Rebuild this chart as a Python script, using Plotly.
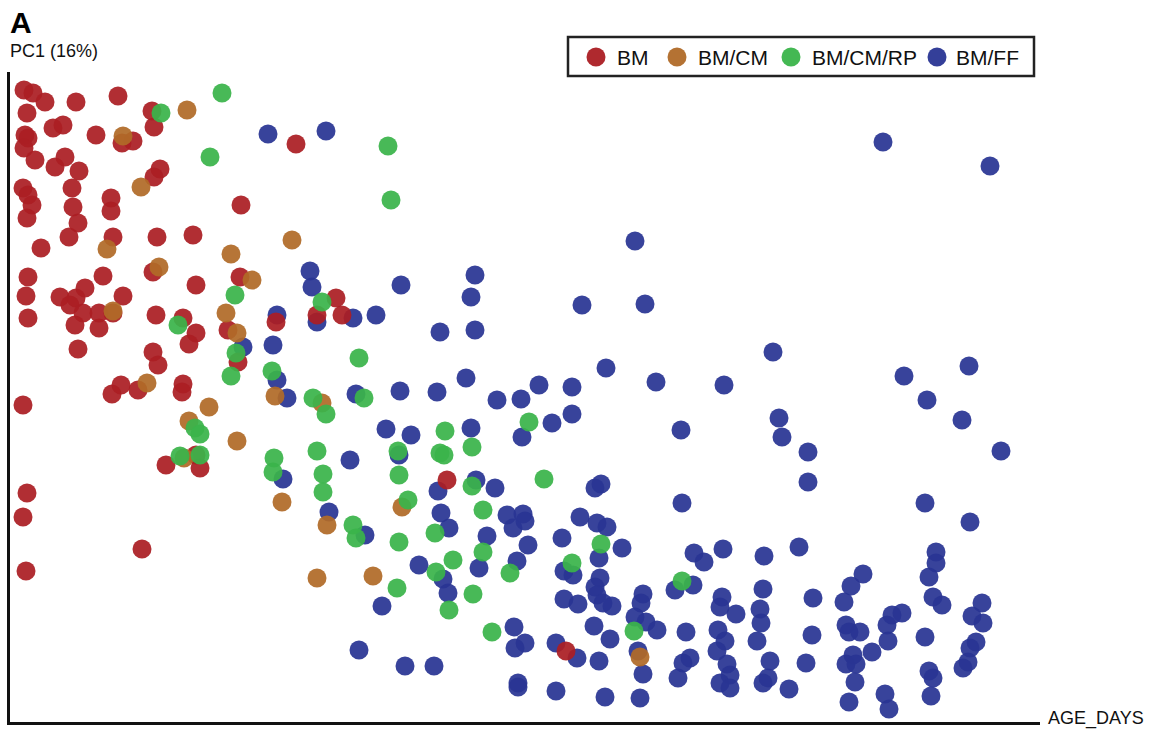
import plotly.graph_objects as go

# Sample scores: age in days vs. first principal component (scaled score)
bm_age = [14, 23, 35, 17, 66, 108, 142, 144, 15, 18, 43, 53, 86, 112, 123, 14, 25, 45, 55, 69,
          150, 144, 13, 18, 22, 17, 62, 63, 68, 59, 101, 101, 103, 31, 147, 183, 231, 18, 16, 18,
          50, 60, 66, 75, 93, 73, 65, 89, 89, 103, 113, 143, 186, 146, 173, 230, 218, 228, 186, 179,
          143, 148, 68, 102, 111, 128, 173, 172, 13, 286, 326, 332, 266, 307, 17, 13, 16, 132, 156, 186,
          190, 437, 556]
bm_pc1 = [632, 629, 620, 609, 620, 626, 611, 595, 587, 584, 594, 597, 587, 579, 581, 574, 562, 555, 565, 551,
          553, 545, 534, 527, 517, 504, 534, 515, 499, 485, 524, 511, 485, 474, 485, 487, 517, 445, 426, 404,
          425, 417, 424, 434, 446, 409, 397, 394, 409, 409, 426, 450, 437, 407, 404, 445, 392, 360, 389, 378,
          370, 357, 373, 328, 337, 332, 338, 330, 317, 578, 424, 407, 400, 407, 229, 205, 151, 173, 257, 267,
          254, 242, 71]

bmcm_age = [177, 113, 131, 97, 149, 221, 242, 103, 216, 227, 137, 199, 282, 265, 312, 179, 227, 174,
            272, 317, 392, 307, 363, 630]
bmcm_pc1 = [612, 586, 535, 473, 455, 468, 442, 411, 409, 389, 339, 315, 482, 326, 319, 301, 281, 264,
            220, 197, 215, 144, 146, 65]

bmcmrp_age = [212, 151, 200, 225, 168, 226, 221, 378, 381, 312, 349, 262, 303, 354, 185, 190, 170, 190,
              316, 435, 462, 388, 430, 434, 307, 264, 263, 313, 313, 389, 398, 462, 473, 343, 346, 389,
              425, 443, 473, 426, 500, 387, 463, 439, 482, 519, 534, 562, 591, 672, 624]
bmcmrp_pc1 = [629, 609, 565, 427, 397, 369, 346, 576, 522, 420, 364, 351, 324, 324, 294, 288, 266, 267,
              308, 291, 275, 271, 269, 267, 271, 264, 250, 248, 230, 247, 222, 236, 212, 197, 184, 180,
              189, 162, 170, 150, 149, 134, 128, 112, 90, 300, 243, 159, 178, 141, 91]

bmff_age = [233, 258, 316, 300, 302, 391, 465, 461, 267, 307, 343, 366, 430, 465, 263, 267, 277, 346, 390, 427,
            456, 487, 625, 572, 635, 596, 529, 562, 511, 646, 714, 873, 980, 763, 894, 959, 917, 376, 401, 461,
            340, 389, 273, 466, 485, 428, 319, 355, 431, 439, 477, 409, 469, 433, 438, 372, 349, 395, 424, 542,
            562, 512, 671, 672, 585, 591, 497, 513, 503, 515, 518, 507, 552, 570, 587, 597, 612, 589, 590, 554,
            563, 585, 587, 593, 602, 554, 568, 633, 631, 625, 636, 647, 584, 600, 504, 515, 505, 546, 567, 589,
            628, 633, 508, 508, 546, 595, 630, 665, 683, 684, 694, 713, 676, 712, 710, 726, 708, 715, 707, 717,
            720, 710, 720, 673, 680, 668, 769, 772, 798, 798, 952, 991, 915, 960, 754, 789, 753, 750, 751, 747,
            760, 758, 753, 779, 803, 802, 796, 853, 841, 834, 836, 839, 850, 862, 843, 836, 846, 845, 839, 875,
            879, 877, 882, 892, 878, 926, 926, 919, 923, 932, 915, 919, 923, 921, 972, 962, 973, 966, 960, 958,
            953]
bmff_pc1 = [375, 588, 591, 451, 435, 437, 447, 425, 407, 400, 404, 407, 390, 392, 377, 342, 324, 328, 331, 330,
            344, 322, 481, 417, 418, 354, 337, 335, 323, 340, 337, 580, 556, 370, 346, 356, 322, 293, 287, 294,
            262, 267, 243, 242, 234, 231, 210, 187, 209, 194, 186, 157, 154, 143, 129, 116, 72, 56, 56, 299,
            308, 285, 292, 219, 234, 238, 207, 208, 194, 201, 177, 161, 184, 205, 199, 195, 174, 164, 144, 151,
            147, 135, 127, 119, 116, 123, 118, 128, 119, 105, 100, 92, 96, 83, 95, 79, 74, 79, 64, 61,
            71, 48, 39, 35, 31, 25, 24, 132, 137, 169, 160, 173, 90, 125, 115, 108, 92, 81, 71, 58,
            47, 39, 34, 59, 64, 44, 304, 285, 270, 240, 302, 271, 219, 200, 166, 175, 133, 113, 99, 81,
            61, 44, 39, 33, 124, 87, 59, 148, 136, 120, 97, 90, 90, 70, 67, 58, 58, 40, 20, 28,
            13, 97, 107, 109, 81, 170, 159, 145, 125, 117, 85, 51, 44, 26, 119, 106, 99, 80, 74, 60,
            54]

# Group styling (drawing order: BM/FF underneath, then the earlier groups)
legend_names = ["BM", "BM/CM", "BM/CM/RP", "BM/FF"]
colours = {"BM": "#ab1e23", "BM/CM": "#b06a28", "BM/CM/RP": "#3ab44a", "BM/FF": "#293593"}
series = {
    "BM/FF": (bmff_age, bmff_pc1),
    "BM": (bm_age, bm_pc1),
    "BM/CM": (bmcm_age, bmcm_pc1),
    "BM/CM/RP": (bmcmrp_age, bmcmrp_pc1),
}

FONT = "Arial, Liberation Sans, sans-serif"
W, H = 1160, 732
ML, MR, MT, MB = 10, 120, 72, 10
PW, PH = W - ML - MR, H - MT - MB
MARKER = 19


def px_x(px):
    """Page pixel column -> paper x."""
    return (px - ML) / PW


def px_y(py):
    """Page pixel row -> paper y."""
    return (H - MB - py) / PH


fig = go.Figure()
for name, (ages, scores) in series.items():
    fig.add_trace(go.Scatter(
        x=ages, y=scores, mode="markers", name=name, showlegend=False,
        marker=dict(size=MARKER, color=colours[name], opacity=0.93, line=dict(width=0)),
    ))

# Boxed key across the top right
shapes = [dict(type="rect", xref="paper", yref="paper",
               x0=px_x(568), x1=px_x(1034), y0=px_y(37), y1=px_y(76),
               line=dict(color="#222222", width=2.5), fillcolor="white", layer="above")]
annotations = []
key_dot_x = [596, 677, 791, 937]
key_text_x = [615, 696, 810, 954]
key_mid = 57
for name, dx, tx in zip(legend_names, key_dot_x, key_text_x):
    r = MARKER / 2
    shapes.append(dict(type="circle", xref="paper", yref="paper",
                       x0=px_x(dx - r), x1=px_x(dx + r), y0=px_y(key_mid + r), y1=px_y(key_mid - r),
                       fillcolor=colours[name], line=dict(width=0), opacity=0.95, layer="above"))
    annotations.append(dict(text=name, xref="paper", yref="paper", x=px_x(tx), y=px_y(key_mid),
                            xanchor="left", yanchor="middle", showarrow=False,
                            font=dict(family=FONT, size=21, color="#111111")))

annotations += [
    dict(text="<b>A</b>", xref="paper", yref="paper", x=px_x(8), y=px_y(22),
         xanchor="left", yanchor="middle", showarrow=False,
         font=dict(family=FONT, size=30, color="#000000")),
    dict(text="PC1 (16%)", xref="paper", yref="paper", x=px_x(8), y=px_y(51),
         xanchor="left", yanchor="middle", showarrow=False,
         font=dict(family=FONT, size=18, color="#111111")),
    dict(text="AGE_DAYS", xref="paper", yref="paper", x=px_x(1046), y=px_y(718),
         xanchor="left", yanchor="middle", showarrow=False,
         font=dict(family=FONT, size=18, color="#111111")),
]

fig.update_layout(
    width=W, height=H, autosize=False,
    margin=dict(l=ML, r=MR, t=MT, b=MB, pad=0),
    paper_bgcolor="white", plot_bgcolor="white",
    font=dict(family=FONT, color="#111111"),
    showlegend=False,
    xaxis=dict(range=[0, 1030], showline=True, linecolor="#111111", linewidth=2.5,
               showgrid=False, zeroline=False, showticklabels=False, ticks=""),
    yaxis=dict(range=[0, 650], showline=True, linecolor="#111111", linewidth=2.5,
               showgrid=False, zeroline=False, showticklabels=False, ticks=""),
    shapes=shapes,
    annotations=annotations,
)

fig.write_html("out.html")
